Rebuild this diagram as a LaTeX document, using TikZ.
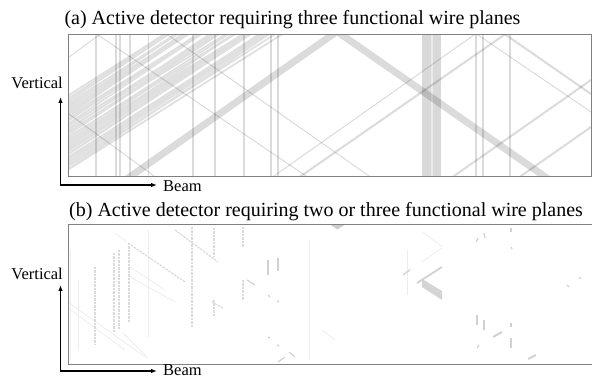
\documentclass[tikz,border=0pt]{standalone}
\usepackage{fontspec}
\setmainfont{Liberation Serif}
\usetikzlibrary{arrows.meta}
\tikzset{wire/.style={draw=black,draw opacity=0.14,line width=#1,shorten <=-8pt,shorten >=-8pt},wire/.default=1pt}
\tikzset{shower/.style={draw=black!12,line width=#1,shorten <=-8pt},shower/.default=1.8pt}
\tikzset{band/.style={fill=black,fill opacity=0.15}}
\tikzset{frame/.style={draw=black!50,line width=0.9pt}}
\tikzset{axis/.style={line width=1.1pt,{Latex[length=6pt,width=4.5pt]}-{Latex[length=6pt,width=4.5pt]}}}
\tikzset{hit/.style={draw=black!18,line width=#1},hit/.default=1.2pt}
\tikzset{hitdash/.style={draw=black!14,line width=1.2pt,dash pattern=on 2.5pt off 1pt}}
\tikzset{faint/.style={draw=black!7,line width=0.8pt}}
\tikzset{title/.style={font=\fontsize{20}{24}\selectfont,inner sep=0pt,anchor=base west}}
\tikzset{lbl/.style={font=\fontsize{16.5}{20}\selectfont,inner sep=0pt}}

\begin{document}
\begin{tikzpicture}[x=1pt,y=-1pt]
      \pgfmathsetmacro{\boxl}{68.5}
      \pgfmathsetmacro{\boxr}{591}
      \pgfmathsetmacro{\topa}{34.3}
      \pgfmathsetmacro{\bota}{176.7}
      \pgfmathsetmacro{\topb}{224.5}
      \pgfmathsetmacro{\botb}{364}
      \useasboundingbox (0,0) rectangle (592,379);

      \node[title] (titlea) at (64.3,24.3) {(a) Active detector requiring three functional wire planes};
      \node[title] (titleb) at (69,216.7) {(b) Active detector requiring two or three functional wire planes};

      \begin{scope}
        \clip (\boxl,\topa) rectangle (\boxr,\bota);
        \pgfmathsetseed{23}
        \foreach \i in {0,...,44}{
          \pgfmathsetmacro{\ys}{95+1.68*\i+1.4*rnd}
          \pgfmathsetmacro{\sl}{0.61+0.07*rnd}
          \draw[shower] (69,\ys) -- ++(260,-260*\sl);
        }
        \foreach \x/\w in {96/2,116/1.5,120/2,130/2,148/0.6,193/2,215/2,244/1.8,271/1.5,278/2,476/1.5,483/2,510/2}
          \draw[wire=\w pt] (\x,\topa) -- (\x,\bota);
        \fill[band] (422,\topa) rectangle (431.3,\bota);
        \fill[band] (432.7,\topa) rectangle (441,\bota);
        \fill[black,fill opacity=0.08] (431.3,\topa) rectangle (432.7,\bota);
        \draw[wire=7pt,miter limit=20] (130,\bota) -- (337,31.5) -- (545,\bota);
        \draw[wire] (97,\topa) -- (307,\bota);
        \draw[wire] (167,\topa) -- (370,\bota);
        \draw[wire] (477,\topa) -- (591,112);
        \draw[wire=2pt] (505,\topa) -- (591,94);
        \draw[wire] (69,114) -- (155,\bota);
        \draw[wire] (273,\bota) -- (475,\topa);
        \draw[wire=2pt] (300,\bota) -- (505,\topa);
        \draw[wire=2pt] (453,\bota) -- (591,80);
        \draw[wire=2pt] (520,\bota) -- (591,127);
        \draw[wire] (69,57) -- (100,\topa);
      \end{scope}
      \draw[frame] (\boxl,\topa) rectangle (\boxr,\bota);

      \begin{scope}
        \clip (\boxl,\topb) rectangle (592,\botb);
        \foreach \x/\ya/\yb in {148/230/337,70/250/360,78/280/350,309/240/360,407/250/295,243/280/293}
          \draw[faint] (\x,\ya) -- (\x,\yb);
        \foreach \xa/\ya/\xb/\yb in {68/302/145/357,68/308/125/350,115/233/127/242,130/267/165/290,130/277/175/302,123/333/148/358,423/232/442/247,422/262/442/248,405/272/411/268,322/330/335/340}
          \draw[faint] (\xa,\ya) -- (\xb,\yb);
        \foreach \x/\ya/\yb in {95/267/345,114/253/332,119/250/330,129/243/323,192/227/328,214/228/257,214/300/317,243/227/247,243/280/300}
          \draw[hitdash] (\x,\ya) -- (\x,\yb);
        \foreach \xa/\ya/\xb/\yb in {128/243/185/282,175/230/218/262,212/302/223/308}
          \draw[hitdash] (\xa,\ya) -- (\xb,\yb);
        \foreach \xa/\ya/\xb/\yb in {268/260/268/275,278/258/278/271,247/280/255/285,268/295/270/297,277/301/279/302,268/337/270/338,277/345/279/346,289/352/295/357,278/362/285/357,403/275/410/270,477/315/477/325,484/320/484/330,511/323/511/327,511/338/511/348,477/348/479/345,484/233/485/238,476/242/478/238,511/228/511/232,511/247/512/249,567/285/569/287,579/277/581/279}
          \draw[hit] (\xa,\ya) -- (\xb,\yb);
        \draw[hit=2pt] (493,337) -- (502,332);
        \draw[hit=2pt] (528,359) -- (536,355);
        \draw[hit=1.8pt] (417,283) -- (442,267);
        \fill[black!17] (422,279) -- (442,291) -- (442,300) -- (422,287) -- cycle;
        \fill[black!20] (330,\topb) -- (345,\topb) -- (337.5,229.5) -- cycle;
      \end{scope}
      \draw[frame] (593,\topb) -- (\boxl,\topb) -- (\boxl,\botb) -- (593,\botb);

      \coordinate (va) at (60.5,97);
      \coordinate (oa) at (60.5,185);
      \coordinate (ha) at (157,185);
      \draw[axis] (va) -- (oa) -- (ha);
      \node[lbl,anchor=base east] (verta) at (63,88.3) {Vertical};
      \node[lbl,anchor=base west] (beama) at (163,191.5) {Beam};

      \coordinate (vb) at (60.5,285);
      \coordinate (ob) at (60.5,371);
      \coordinate (hb) at (157,371);
      \draw[axis] (vb) -- (ob) -- (hb);
      \node[lbl,anchor=base east] (vertb) at (63,279.3) {Vertical};
      \node[lbl,anchor=base west] (beamb) at (163,376) {Beam};
\end{tikzpicture}
\end{document}
